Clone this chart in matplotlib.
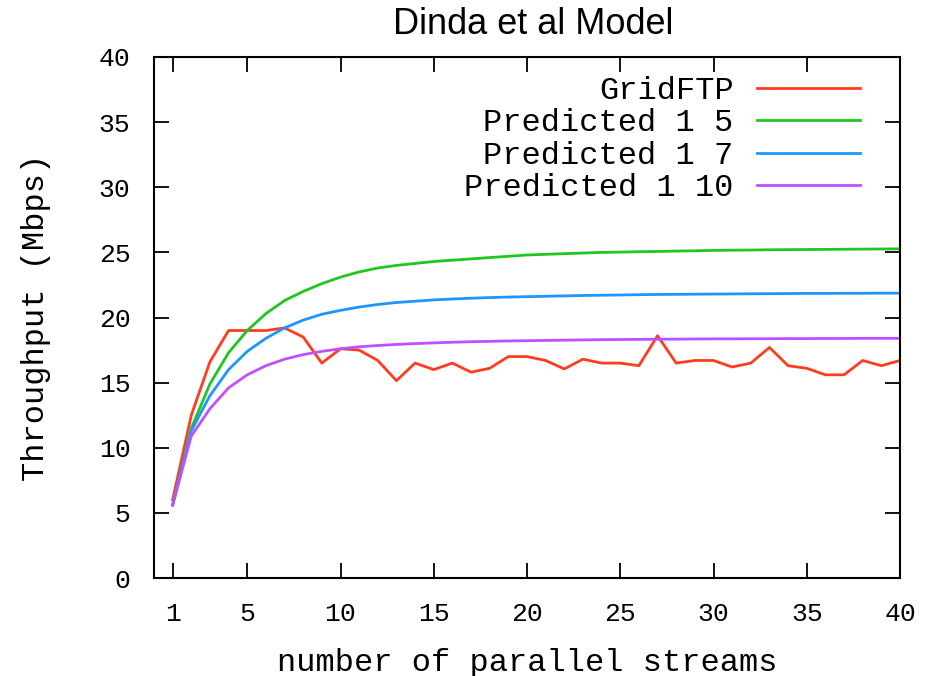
import matplotlib
matplotlib.use("Agg")
import matplotlib.pyplot as plt

streams = list(range(1, 41))
gridftp = [6.0, 12.5, 16.6, 19.0, 19.0, 19.0, 19.2, 18.5, 16.5, 17.6,
           17.5, 16.7, 15.15, 16.5, 16.0, 16.5, 15.8, 16.1, 17.0, 17.0,
           16.7, 16.05, 16.8, 16.5, 16.5, 16.3, 18.6, 16.5, 16.7, 16.7,
           16.2, 16.5, 17.7, 16.3, 16.1, 15.6, 15.6, 16.7, 16.3, 16.7]
pred_1_5 = [5.6, 11.5, 14.9, 17.3, 19.0, 20.3, 21.3, 22.0, 22.6, 23.1,
            23.5, 23.8, 24.0, 24.15, 24.3, 24.4, 24.5, 24.6, 24.7, 24.8,
            24.85, 24.9, 24.95, 25.0, 25.02, 25.05, 25.07, 25.1, 25.12, 25.15,
            25.17, 25.18, 25.2, 25.21, 25.22, 25.23, 25.24, 25.25, 25.26, 25.27]
pred_1_7 = [5.6, 11.3, 14.0, 16.0, 17.4, 18.4, 19.2, 19.8, 20.25, 20.55,
            20.8, 21.0, 21.15, 21.25, 21.35, 21.42, 21.48, 21.53, 21.57, 21.6,
            21.63, 21.66, 21.69, 21.71, 21.73, 21.75, 21.77, 21.78, 21.79, 21.8,
            21.81, 21.82, 21.83, 21.84, 21.85, 21.85, 21.86, 21.86, 21.87, 21.87]
pred_1_10 = [5.6, 10.9, 13.0, 14.6, 15.6, 16.3, 16.8, 17.15, 17.4, 17.6,
             17.75, 17.85, 17.93, 18.0, 18.05, 18.1, 18.14, 18.17, 18.2, 18.22,
             18.24, 18.26, 18.28, 18.3, 18.31, 18.32, 18.33, 18.34, 18.35, 18.36,
             18.36, 18.37, 18.37, 18.38, 18.38, 18.39, 18.39, 18.4, 18.4, 18.4]

series_labels = ["GridFTP", "Predicted 1 5", "Predicted 1 7", "Predicted 1 10"]
series_colors = ["#ff3c1e", "#1ec81e", "#1e96ff", "#c050ff"]
x_ticks = [1, 5, 10, 15, 20, 25, 30, 35, 40]
y_ticks = [0, 5, 10, 15, 20, 25, 30, 35, 40]

mono = "Liberation Mono"

fig = plt.figure(figsize=(9.48, 6.76), dpi=100)
ax = fig.add_axes([154 / 948, 98 / 676, 746 / 948, 521 / 676])

for ys, lab, col in zip([gridftp, pred_1_5, pred_1_7, pred_1_10], series_labels, series_colors):
    ax.plot(streams, ys, color=col, lw=2.0, label=lab)

ax.set_xlim(0, 40)
ax.set_ylim(0, 40)
ax.set_xticks(x_ticks)
ax.set_yticks(y_ticks)
ax.tick_params(direction="in", length=10.5, width=1.3, top=True, right=True,
               labelsize=19, pad=17)
for lbl in ax.get_xticklabels() + ax.get_yticklabels():
    lbl.set_fontfamily(mono)
for s in ax.spines.values():
    s.set_linewidth(1.5)

ax.set_xlabel("number of parallel streams", fontfamily=mono, fontsize=23, labelpad=16)
ax.set_ylabel("Throughput (Mbps)", fontfamily=mono, fontsize=23, labelpad=34)
fig.text(533 / 948, 1 - 25 / 676, "Dinda et al Model", fontfamily="Liberation Sans",
         fontsize=26, ha="center", va="center")

leg = ax.legend(loc="upper right", bbox_to_anchor=(0.946, 0.964), frameon=False,
                markerfirst=False, prop={"family": mono, "size": 23},
                handlelength=3.2, handletextpad=0.75, labelspacing=0.08,
                borderpad=0, borderaxespad=0)

fig.savefig("out.png", dpi=100)
